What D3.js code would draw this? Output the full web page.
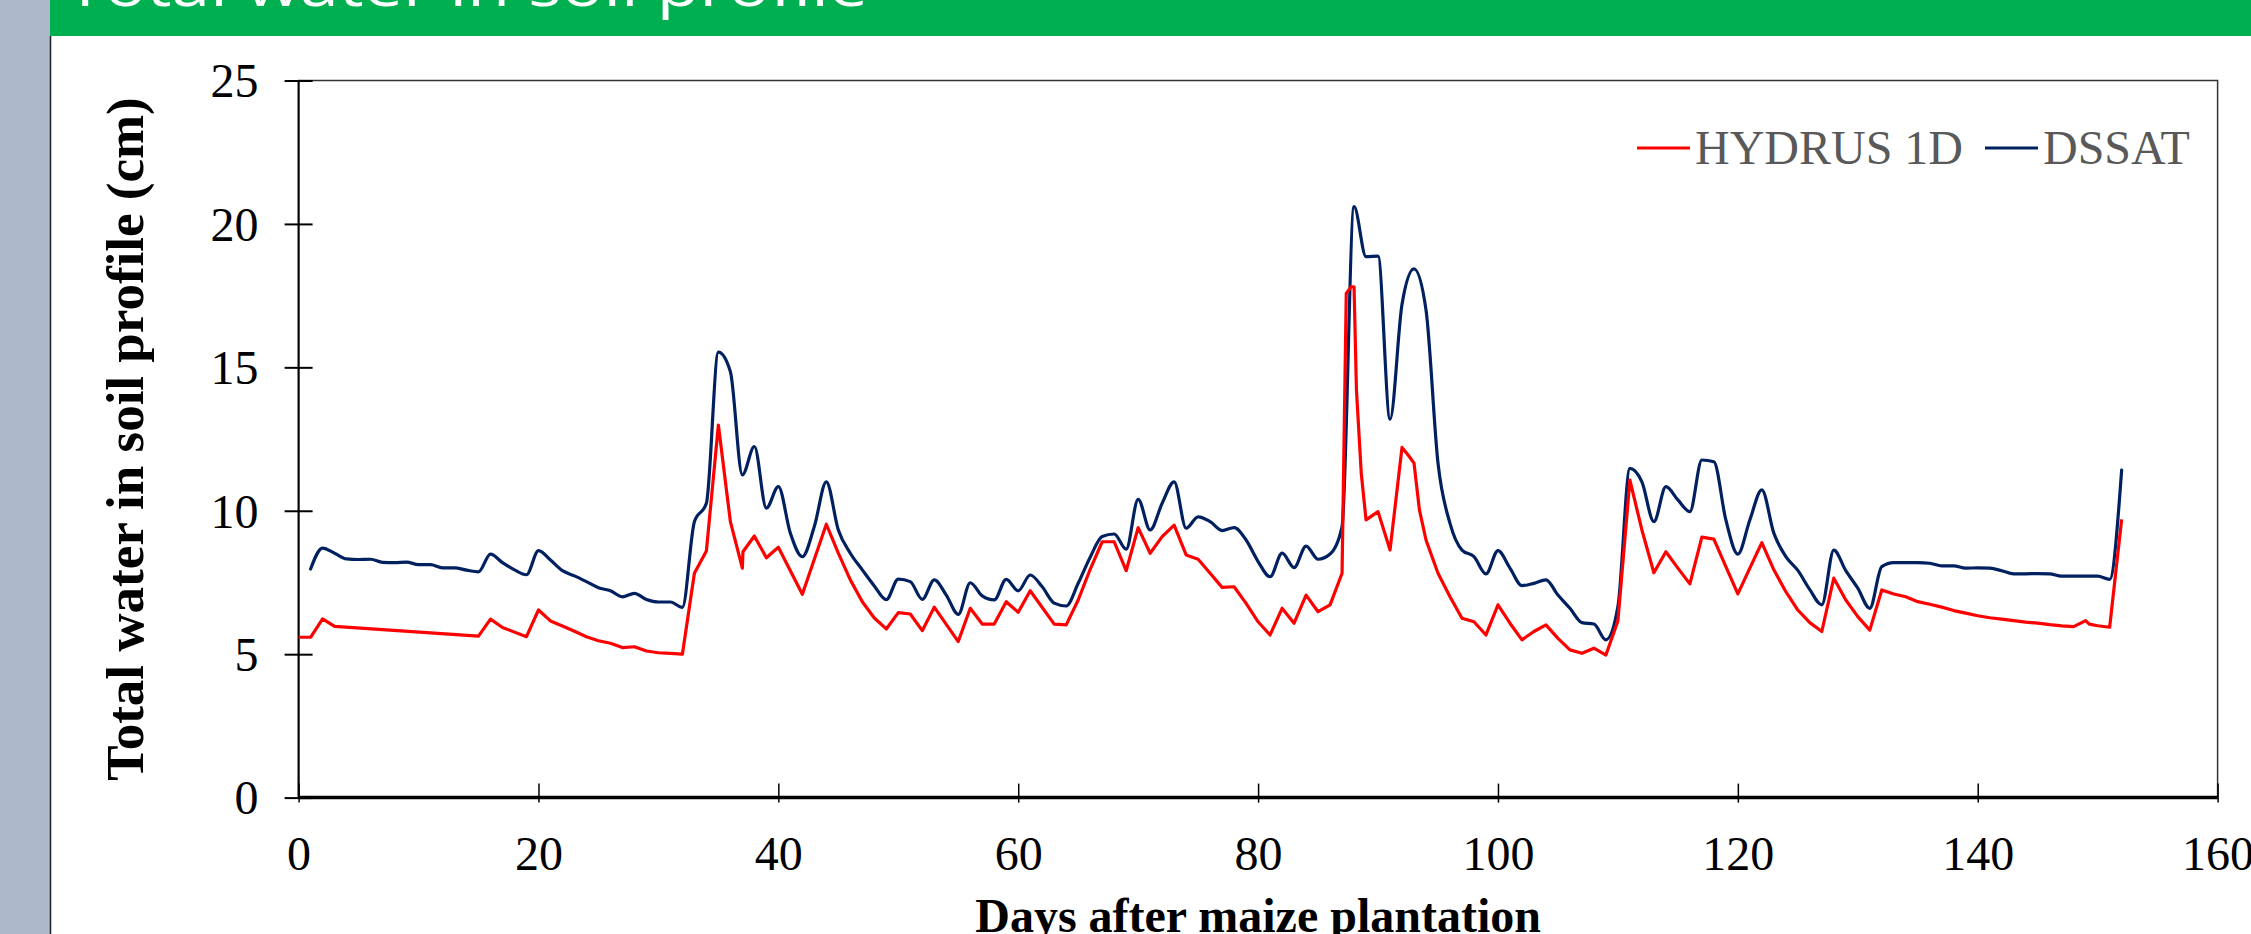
<!DOCTYPE html>
<html>
<head>
<meta charset="utf-8">
<script src="https://cdn.jsdelivr.net/npm/d3@7"></script>
<style>
  body { margin: 0; background: #fff; overflow: hidden; }
</style>
</head>
<body>
<div class="chart"></div>
<script>
// data
const seriesNames = ["HYDRUS 1D", "DSSAT"];
const seriesColors = ["#ff0000", "#002060"];

const hydrusDays = [0, 1, 2, 3, 15, 16, 17, 19, 20, 21, 22, 23, 24, 25, 26, 27, 28, 29, 30, 31, 32,
  33, 34, 35, 36, 37, 37.05, 38, 39, 40, 42, 44, 45, 46, 47, 48, 49, 50, 51, 52, 53, 55, 56, 57, 58,
  59, 60, 61, 63, 64, 65, 66, 67, 68, 69, 70, 71, 72, 73, 74, 75, 76, 77, 78, 79, 80, 81, 82, 83, 84,
  85, 86, 87, 87.35, 87.75, 88, 88.2, 88.6, 89, 90, 91, 92, 92.6, 93, 93.45, 94, 95, 96, 97, 98, 99,
  100, 101, 102, 103, 104, 105, 106, 107, 108, 109, 110, 111, 112, 113, 114, 115, 116, 117, 118, 119,
  120, 121, 122, 123, 124, 125, 126, 127, 128, 129, 130, 131, 132, 133, 134, 135, 136, 137, 138, 139,
  140, 141, 142, 143, 144, 145, 146, 147, 148, 149, 149.3, 150, 151, 152];
const hydrusValues = [5.59, 5.59, 6.23, 5.97, 5.63, 6.22, 5.93, 5.61, 6.54, 6.16, 5.98, 5.80, 5.61, 5.47, 5.38, 5.23, 5.26, 5.11, 5.05, 5.03, 5.00,
  7.82, 8.60, 12.99, 9.62, 8.00, 8.57, 9.12, 8.36, 8.73, 7.09, 9.53, 8.52, 7.59, 6.83, 6.26, 5.88, 6.45, 6.40, 5.82, 6.64, 5.44, 6.60, 6.05, 6.05,
  6.83, 6.46, 7.21, 6.05, 6.02, 6.89, 7.96, 8.92, 8.92, 7.91, 9.41, 8.52, 9.10, 9.50, 8.46, 8.31, 7.82, 7.33, 7.35, 6.77, 6.13, 5.67, 6.60, 6.08, 7.06,
  6.48, 6.72, 7.82, 17.58, 17.81, 17.81, 14.21, 11.31, 9.68, 9.97, 8.63, 12.21, 11.89, 11.66, 10.03, 8.98, 7.82, 7.00, 6.25, 6.13, 5.67,
  6.72, 6.08, 5.50, 5.79, 6.02, 5.55, 5.15, 5.03, 5.21, 4.97, 6.16, 11.07, 9.33, 7.84, 8.57, 8.00, 7.45, 9.08, 9.01, 8.05,
  7.10, 8.00, 8.89, 7.94, 7.18, 6.54, 6.10, 5.79, 7.65, 6.89, 6.31, 5.84, 7.24, 7.10, 7.00, 6.83, 6.74, 6.64, 6.52, 6.43,
  6.34, 6.27, 6.22, 6.17, 6.12, 6.08, 6.03, 5.99, 5.96, 6.17, 6.05, 5.99, 5.94, 9.70];

// DSSAT: one value per day, days 1..152
const dssatDays = d3.range(1, 153);
const dssatValues = [7.97, 8.70, 8.52, 8.32, 8.30, 8.31, 8.20, 8.19, 8.21, 8.12,
  8.12, 8.01, 8.01, 7.93, 7.87, 8.49, 8.19, 7.94, 7.77, 8.61,
  8.28, 7.91, 7.73, 7.53, 7.32, 7.21, 7.00, 7.12, 6.91, 6.82,
  6.82, 6.63, 9.62, 10.26, 15.53, 14.85, 11.25, 12.24, 10.09, 10.84,
  9.22, 8.40, 9.45, 11.01, 9.33, 8.52, 7.94, 7.38, 6.90, 7.62,
  7.53, 6.91, 7.59, 7.06, 6.39, 7.49, 7.03, 6.89, 7.61, 7.21,
  7.76, 7.35, 6.78, 6.68, 7.47, 8.38, 9.10, 9.19, 8.66, 10.40,
  9.33, 10.26, 11.01, 9.39, 9.79, 9.62, 9.31, 9.41, 8.98, 8.23,
  7.70, 8.52, 8.02, 8.77, 8.31, 8.49, 9.45, 20.60, 18.86, 18.88,
  13.19, 17.20, 18.43, 17.00, 11.66, 9.56, 8.63, 8.40, 7.80, 8.61,
  8.00, 7.39, 7.47, 7.59, 7.06, 6.60, 6.10, 6.05, 5.50, 6.66,
  11.48, 11.01, 9.62, 10.84, 10.38, 9.97, 11.77, 11.71, 9.68, 8.49,
  9.68, 10.73, 9.22, 8.40, 7.92, 7.25, 6.72, 8.63, 7.91, 7.30,
  6.60, 8.05, 8.19, 8.19, 8.19, 8.17, 8.08, 8.08, 8.00, 8.01,
  8.00, 7.91, 7.80, 7.80, 7.81, 7.80, 7.72, 7.72, 7.72, 7.72,
  7.61, 11.42];

const xTicks = [0, 20, 40, 60, 80, 100, 120, 140, 160];
const yTicks = [0, 5, 10, 15, 20, 25];

const titleText = "Total water in soil profile";
const xTitle = "Days after maize plantation";
const yTitle = "Total water in soil profile (cm)";

// page size
const W = 2251, H = 934;
const plot = { left: 298.6, right: 2217.6, top: 80.5, bottom: 797.6 };
const serif = "'Liberation Serif', 'Times New Roman', serif";

const svg = d3.select(".chart").append("svg")
  .attr("width", W).attr("height", H)
  .style("display", "block");

// slide background
svg.append("rect").attr("x", 0).attr("y", 0).attr("width", W).attr("height", H).attr("fill", "#fff");
svg.append("rect").attr("x", 0).attr("y", 0).attr("width", 50).attr("height", H).attr("fill", "#adb9ca");
svg.append("rect").attr("x", 50).attr("y", 0).attr("width", W - 50).attr("height", 36).attr("fill", "#00b050");
svg.append("line").attr("x1", 50.5).attr("x2", 50.5).attr("y1", 36).attr("y2", H)
  .attr("stroke", "#222").attr("stroke-width", 1.5);

// title, cut by the top edge
svg.append("text")
  .attr("x", 66).attr("y", 5.5)
  .attr("fill", "#fff")
  .attr("textLength", 802).attr("lengthAdjust", "spacingAndGlyphs")
  .style("font-family", "'Open Sans', sans-serif")
  .style("font-size", "56px")
  .text(titleText);

// scales
const x = d3.scaleLinear().domain([0, 160]).range([plot.left, plot.right]);
const y = d3.scaleLinear().domain([0, 25]).range([plot.bottom, plot.top]);

// plot area border
svg.append("rect")
  .attr("x", plot.left).attr("y", plot.top)
  .attr("width", plot.right - plot.left).attr("height", plot.bottom - plot.top)
  .attr("fill", "none").attr("stroke", "#333").attr("stroke-width", 1.5);

// y axis (ticks cross the line)
const yAxis = d3.axisLeft(y).tickValues(yTicks).tickSize(0).tickPadding(0);
const gy = svg.append("g").attr("transform", `translate(${plot.left},0)`).call(yAxis);
gy.select(".domain").remove();
gy.selectAll(".tick text").remove();
gy.selectAll(".tick").append("line")
  .attr("x1", -14).attr("x2", 14).attr("stroke", "#000").attr("stroke-width", 2);
gy.append("line").attr("x1", 0).attr("x2", 0).attr("y1", plot.top).attr("y2", plot.bottom)
  .attr("stroke", "#000").attr("stroke-width", 2);
gy.selectAll(".tick").append("text")
  .attr("x", -40).attr("dy", "0.34em")
  .attr("text-anchor", "end")
  .attr("fill", "#000")
  .style("font-family", serif)
  .style("font-size", "48px")
  .text(d => d);

// x axis
const xAxis = d3.axisBottom(x).tickValues(xTicks).tickSize(0);
const gx = svg.append("g").attr("transform", `translate(0,${plot.bottom})`).call(xAxis);
gx.select(".domain").remove();
gx.selectAll(".tick text").remove();
gx.selectAll(".tick").append("line")
  .attr("y1", -14).attr("y2", 5).attr("stroke", "#000").attr("stroke-width", 1.5);
gx.append("line").attr("x1", plot.left).attr("x2", plot.right).attr("y1", 0).attr("y2", 0)
  .attr("stroke", "#000").attr("stroke-width", 3.5);
gx.selectAll(".tick").append("text")
  .attr("y", 72)
  .attr("text-anchor", "middle")
  .attr("fill", "#000")
  .style("font-family", serif)
  .style("font-size", "48px")
  .text(d => d);

// axis titles
svg.append("text")
  .attr("x", (plot.left + plot.right) / 2).attr("y", 932)
  .attr("text-anchor", "middle")
  .style("font-family", serif)
  .style("font-size", "48px").style("font-weight", "bold")
  .text(xTitle);

svg.append("text")
  .attr("transform", `translate(143,${(plot.top + plot.bottom) / 2}) rotate(-90)`)
  .attr("text-anchor", "middle")
  .style("font-family", serif)
  .style("font-size", "53px").style("font-weight", "bold")
  .text(yTitle);

// lines
const hydrus = hydrusDays.map((d, i) => ({ day: d, value: hydrusValues[i] }));
const dssat = dssatDays.map((d, i) => ({ day: d, value: dssatValues[i] }));

const lineStraight = d3.line().x(d => x(d.day)).y(d => y(d.value));
const lineSmooth = d3.line().x(d => x(d.day)).y(d => y(d.value)).curve(d3.curveMonotoneX);

svg.append("path").datum(dssat)
  .attr("d", lineSmooth)
  .attr("fill", "none").attr("stroke", seriesColors[1]).attr("stroke-width", 3.2)
  .attr("stroke-linejoin", "round").attr("stroke-linecap", "round");

svg.append("path").datum(hydrus)
  .attr("d", lineStraight)
  .attr("fill", "none").attr("stroke", seriesColors[0]).attr("stroke-width", 3.2)
  .attr("stroke-linejoin", "round");

// legend
const legendItems = [
  { name: seriesNames[0], color: seriesColors[0], x: 1637 },
  { name: seriesNames[1], color: seriesColors[1], x: 1985 }
];
const lg = svg.append("g").selectAll("g").data(legendItems).enter().append("g")
  .attr("transform", d => `translate(${d.x},148)`);
lg.append("line").attr("x1", 0).attr("x2", 53).attr("y1", 0).attr("y2", 0)
  .attr("stroke", d => d.color).attr("stroke-width", 3.2);
lg.append("text")
  .attr("x", 58).attr("y", 16)
  .attr("fill", "#595959")
  .style("font-family", serif)
  .style("font-size", "48px")
  .text(d => d.name);
</script>
</body>
</html>
